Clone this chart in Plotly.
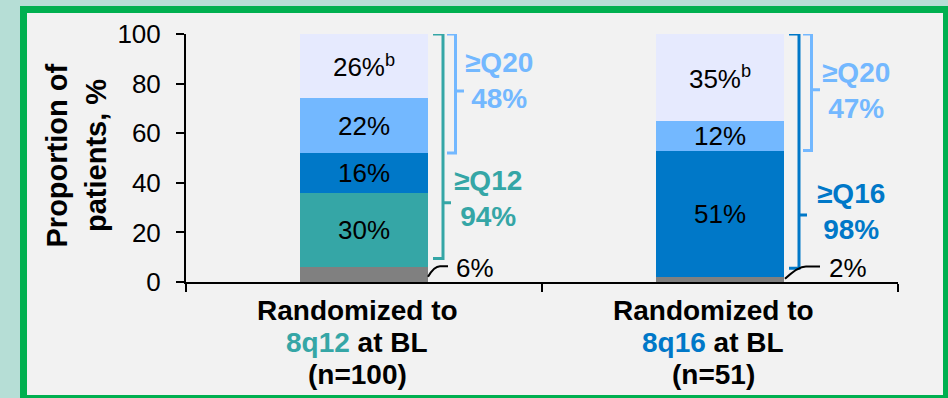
import plotly.graph_objects as go

# ---- data -------------------------------------------------------------
categories = ["8q12", "8q16"]
n_patients = [100, 51]
category_colors = ["#35a6a6", "#0078c8"]

# stacked segments, bottom to top (percent of patients)
seg_q8 = [6, 2]
seg_q12 = [30, 0]
seg_q16 = [16, 51]
seg_q20 = [22, 12]
seg_q24 = [26, 35]

y_ticks = [0, 20, 40, 60, 80, 100]

# ---- styling ----------------------------------------------------------
W, H = 948, 398
M_L, M_R, M_T, M_B = 186, 50, 34, 116
FONT = "Liberation Sans, Arial, sans-serif"

C_GREY = "#808080"
C_TEAL = "#35a6a6"
C_BLUE = "#0078c8"
C_LBLUE = "#73b8ff"
C_LAV = "#e6eafe"

segments = [
    ("Q8", seg_q8, C_GREY, False, False),
    ("Q12", seg_q12, C_TEAL, True, False),
    ("Q16", seg_q16, C_BLUE, True, False),
    ("Q20", seg_q20, C_LBLUE, True, False),
    ("Q24", seg_q24, C_LAV, True, True),
]


def px_x(px):
    return (px - M_L) / (W - M_L - M_R)


def px_y(py):
    return (H - M_B - py) / (H - M_T - M_B)


fig = go.Figure()

for name, vals, color, labelled, footnote in segments:
    texts = []
    for v in vals:
        if labelled and v > 0:
            texts.append(f"{v}%" + ("<sup>b</sup>" if footnote else ""))
        else:
            texts.append("")
    fig.add_trace(go.Bar(
        name=name, x=categories, y=vals, width=0.36,
        marker=dict(color=color, line=dict(width=0)),
        text=texts, textposition="inside", insidetextanchor="middle",
        textangle=0, constraintext="none",
        textfont=dict(family=FONT, size=26, color="black"),
        hoverinfo="skip", showlegend=False,
    ))

# cumulative bases of each segment
def base_of(idx, i):
    return sum(seg[1][i] for seg in segments[:idx])

total = [sum(seg[1][i] for seg in segments) for i in range(len(categories))]

# bracket geometry in pixels relative to the category centre
INNER = dict(arm=69, vert=79, tick=87)
OUTER = dict(arm=83, vert=91.5, tick=100)

# (category index, first segment index, colour, geometry, gap, tick y, label dx, label y)
brackets = [
    (0, 1, C_TEAL, INNER, 3.5, 32, 124, 33.8, "≥Q12"),
    (0, 3, C_LBLUE, OUTER, 0.0, 77, 135, 81.3, "≥Q20"),
    (1, 2, C_BLUE, INNER, 3.5, 27, 131, 28.4, "≥Q16"),
    (1, 3, C_LBLUE, OUTER, 0.0, 77.5, 136, 77.4, "≥Q20"),
]

shapes = [
    dict(type="rect", xref="paper", yref="paper", layer="below",
         x0=px_x(20), x1=px_x(970), y0=px_y(6), y1=px_y(420),
         fillcolor="#00b050", line=dict(width=0)),
    dict(type="rect", xref="paper", yref="paper", layer="below",
         x0=px_x(27), x1=px_x(943), y0=px_y(13), y1=px_y(395),
         fillcolor="#f2f2f2", line=dict(width=0)),
]
annotations = []

for ci, si, color, g, gap, tick_y, ldx, ly, label in brackets:
    lo = base_of(si, ci) + gap
    hi = total[ci]
    share = total[ci] - base_of(si, ci)
    path = (f"M {g['arm']},{hi} L {g['vert']},{hi} L {g['vert']},{lo} "
            f"L {g['arm']},{lo} M {g['vert']},{tick_y} L {g['tick']},{tick_y}")
    shapes.append(dict(type="path", xref="x", yref="y", xsizemode="pixel",
                       xanchor=categories[ci], path=path,
                       line=dict(color=color, width=3)))
    annotations.append(dict(
        xref="x", yref="y", x=categories[ci], y=ly, xshift=ldx,
        text=f"<b>{label}<br>{share}%</b>", showarrow=False,
        font=dict(family=FONT, size=28, color=color),
        xanchor="center", yanchor="middle", align="center"))

# leader lines for the thin bottom segments
leaders = [
    (0, (64, 2.1), (70, 6.4), (76, 6.4), 84, 111),
    (1, (65, 1.3), (78, 6.3), (86, 6.3), 100, 128),
]
for ci, start, ctrl, elbow, end_x, text_dx in leaders:
    path = (f"M {start[0]},{start[1]} Q {ctrl[0]},{ctrl[1]} {elbow[0]},{elbow[1]} "
            f"L {end_x},{elbow[1]}")
    shapes.append(dict(type="path", xref="x", yref="y", xsizemode="pixel",
                       xanchor=categories[ci], path=path,
                       line=dict(color="black", width=2)))
    annotations.append(dict(
        xref="x", yref="y", x=categories[ci], y=5.8, xshift=text_dx,
        text=f"{seg_q8[ci]}%", showarrow=False,
        font=dict(family=FONT, size=26, color="black"),
        xanchor="center", yanchor="middle"))

# category labels, one line each
for ci, cat in enumerate(categories):
    lines = [
        "Randomized to",
        f"<span style='color:{category_colors[ci]}'>{cat}</span> at BL",
        f"(n={n_patients[ci]})",
    ]
    for li, (txt, dy) in enumerate(zip(lines, [-28.5, -60, -92])):
        annotations.append(dict(
            xref="x", yref="paper", x=cat, y=0, xshift=-7, yshift=dy,
            text=f"<b>{txt}</b>", showarrow=False,
            font=dict(family=FONT, size=28, color="black"),
            xanchor="center", yanchor="middle"))

# y-axis title, two rotated lines
for txt, xs in [("Proportion of", -129.5), ("patients, %", -90)]:
    annotations.append(dict(
        xref="paper", yref="paper", x=0, y=0.5, xshift=xs, yshift=2,
        text=f"<b>{txt}</b>", textangle=-90, showarrow=False,
        font=dict(family=FONT, size=29, color="black"),
        xanchor="center", yanchor="middle"))

fig.update_layout(
    width=W, height=H, autosize=False,
    margin=dict(l=M_L, r=M_R, t=M_T, b=M_B, pad=0),
    paper_bgcolor="#b6ded6", plot_bgcolor="rgba(0,0,0,0)",
    barmode="stack", bargap=0,
    shapes=shapes, annotations=annotations,
    font=dict(family=FONT, color="black"),
)
fig.update_xaxes(
    type="category", range=[-0.5, 1.5], showticklabels=False,
    showline=True, linecolor="black", linewidth=2,
    ticks="outside", tickson="boundaries", ticklen=8, tickwidth=2,
    tickcolor="black", showgrid=False, zeroline=False, fixedrange=True,
)
fig.update_yaxes(
    range=[0, 100], tickvals=y_ticks, ticks="outside", ticklen=8,
    tickwidth=2, tickcolor="black", showline=True, linecolor="black",
    linewidth=2, showgrid=False, zeroline=False, ticklabelstandoff=10,
    tickfont=dict(family=FONT, size=26, color="black"), fixedrange=True,
)

fig.write_html("out.html", config={"displayModeBar": False})
